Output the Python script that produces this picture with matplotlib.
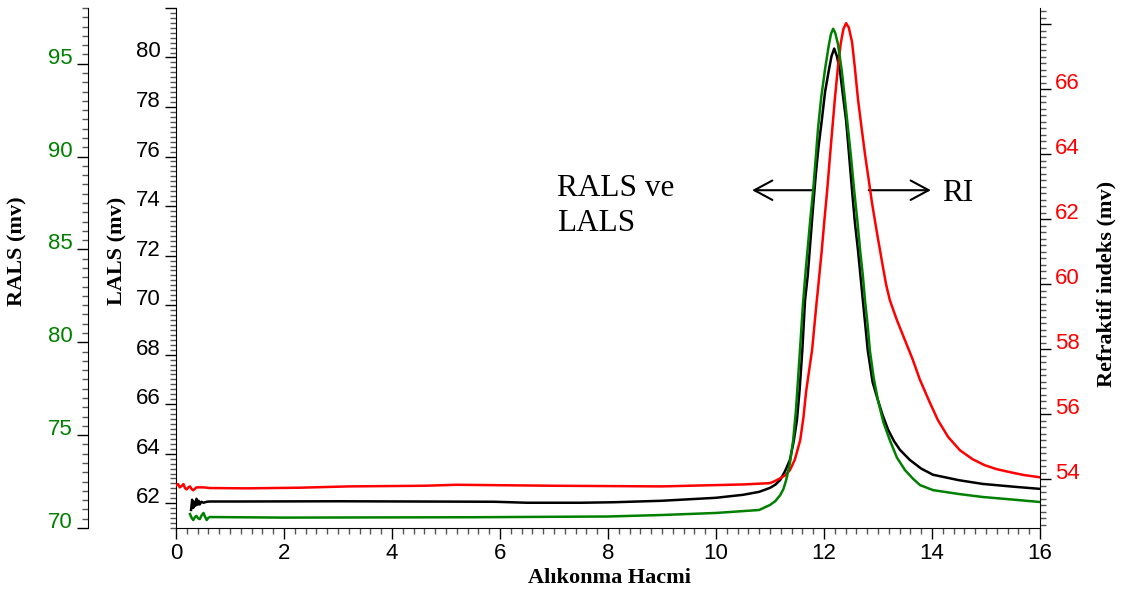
import numpy as np
import matplotlib
matplotlib.use("Agg")
import matplotlib.pyplot as plt
from matplotlib.ticker import MultipleLocator, FixedLocator, FuncFormatter

plt.rcParams['font.family'] = ['Liberation Sans', 'DejaVu Sans']

# LALS sinyali (siyah, sol ic eksen)
lals_x = [0.28, 0.30, 0.32, 0.34, 0.36, 0.38, 0.40, 0.42, 0.44, 0.47, 0.51, 0.57, 0.63,
          1.1, 3.0, 5.9, 6.5, 7.5, 8.1, 9.0, 10.0, 10.5, 10.8, 11.0, 11.1, 11.19, 11.28,
          11.37, 11.44, 11.5, 11.55, 11.6, 11.65, 11.70, 11.75, 11.80, 11.85, 11.90, 11.96,
          12.02, 12.09, 12.14, 12.19, 12.24, 12.30, 12.35, 12.41, 12.46, 12.52, 12.57, 12.63,
          12.68, 12.72, 12.77, 12.81, 12.9, 12.98, 13.08, 13.19, 13.3, 13.41, 13.59, 13.8,
          14.02, 14.5, 14.94, 15.5, 16.0]
lals_y = [61.73, 62.14, 61.81, 62.06, 61.90, 62.18, 61.94, 62.10, 61.95, 62.06, 62.02, 62.06, 62.07,
          62.07, 62.08, 62.06, 62.02, 62.02, 62.04, 62.10, 62.22, 62.34, 62.46, 62.62, 62.75, 62.94, 63.3,
          63.75, 64.5, 65.36, 66.6, 68.2, 70.2, 71.2, 72.6, 74.0, 75.3, 76.4, 77.46,
          78.6, 79.48, 80.05, 80.36, 80.05, 79.4, 78.5, 77.46, 76.2, 74.64, 73.4, 72.22,
          71.1, 70.2, 69.1, 68.19, 66.9, 66.3, 65.6, 64.96, 64.5, 64.15, 63.75, 63.4,
          63.15, 62.93, 62.78, 62.67, 62.58]

# RALS sinyali (yesil, en soldaki eksen)
rals_x = [0.26, 0.29, 0.32, 0.35, 0.38, 0.41, 0.44, 0.48, 0.51, 0.54, 0.57, 0.60, 0.63,
          2.0, 5.5, 8.0, 9.0, 10.0, 10.8, 11.0, 11.1, 11.19, 11.25, 11.30, 11.37, 11.43,
          11.48, 11.52, 11.57, 11.61, 11.66, 11.70, 11.75, 11.80, 11.85, 11.89, 11.95, 12.02,
          12.09, 12.13, 12.17, 12.21, 12.26, 12.33, 12.38, 12.43, 12.5, 12.56, 12.62, 12.67,
          12.72, 12.76, 12.81, 12.85, 12.92, 13.0, 13.1, 13.22, 13.35, 13.5, 13.65, 13.78,
          14.02, 14.5, 14.94, 15.5, 16.0]
rals_y = [70.75, 70.55, 70.43, 70.58, 70.65, 70.52, 70.48, 70.70, 70.81, 70.60, 70.43, 70.55, 70.59,
          70.56, 70.58, 70.62, 70.70, 70.81, 70.97, 71.24, 71.45, 71.77, 72.1, 72.58, 73.5, 74.73,
          76.3, 78.0, 80.2, 82.0, 83.8, 85.1, 86.7, 88.17, 90.0, 91.5, 93.2, 94.7,
          96.0, 96.6, 96.88, 96.65, 96.05, 94.62, 93.3, 91.94, 90.0, 88.17, 86.5, 84.95,
          83.6, 82.26, 80.9, 79.57, 78.1, 76.88, 75.7, 74.73, 73.8, 73.12, 72.65, 72.31,
          72.04, 71.83, 71.67, 71.53, 71.40]

# RI sinyali (kirmizi, sag eksen)
ri_x = [0.0, 0.04, 0.07, 0.11, 0.14, 0.17, 0.20, 0.23, 0.26, 0.29, 0.32, 0.38, 0.51, 0.63,
        1.3, 2.3, 3.2, 4.6, 5.2, 7.0, 9.0, 10.0, 10.5, 11.0, 11.1, 11.19, 11.28, 11.37,
        11.46, 11.56, 11.62, 11.67, 11.73, 11.78, 11.85, 11.91, 11.96, 12.01, 12.06, 12.13,
        12.20, 12.26, 12.31, 12.36, 12.41, 12.46, 12.52, 12.57, 12.63, 12.69, 12.76, 12.83,
        12.89, 12.98, 13.07, 13.15, 13.22, 13.35, 13.5, 13.64, 13.78, 13.95, 14.11, 14.3,
        14.52, 14.75, 14.98, 15.2, 15.44, 15.7, 16.0]
ri_y = [53.82, 53.85, 53.75, 53.80, 53.85, 53.72, 53.69, 53.75, 53.78, 53.70, 53.66, 53.75, 53.75, 53.73,
        53.72, 53.74, 53.78, 53.80, 53.83, 53.80, 53.78, 53.82, 53.84, 53.88, 53.95, 54.03, 54.12, 54.28,
        54.6, 55.2, 55.9, 56.7, 57.4, 57.97, 59.2, 60.2, 61.05, 62.0, 62.89, 64.3,
        65.66, 66.7, 67.4, 67.85, 68.03, 67.9, 67.45, 66.7, 65.7, 64.9, 64.0, 63.2,
        62.5, 61.6, 60.74, 60.0, 59.51, 58.9, 58.28, 57.7, 57.05, 56.4, 55.82, 55.3,
        54.89, 54.62, 54.43, 54.31, 54.22, 54.13, 54.06]

fig = plt.figure(figsize=(11.25, 5.93), dpi=100)
ax = fig.add_axes([0.1564, 0.1096, 0.768, 0.877])
ax_r = ax.twinx()
ax_g = ax.twinx()

ax.plot(lals_x, lals_y, color='black', lw=1.8, zorder=3)
ax_g.plot(rals_x, rals_y, color='#008000', lw=1.8)
ax_r.plot(ri_x, ri_y, color='#ff0000', lw=1.8)

ax.set_xlim(0, 16)
ax.set_ylim(61, 82)
ax_g.set_ylim(70, 98)
ax_r.set_ylim(52.5, 68.5)

# kenar cizgileri
for a in (ax, ax_r, ax_g):
    for s in a.spines.values():
        s.set_visible(False)
ax.spines['left'].set_visible(True)
ax.spines['bottom'].set_visible(True)
ax_r.spines['right'].set_visible(True)
ax_g.spines['left'].set_visible(True)
ax_g.spines['left'].set_position(('axes', -0.1019))
ax_g.yaxis.set_ticks_position('left')
ax_g.yaxis.set_label_position('left')

# tikler
ax.xaxis.set_major_locator(MultipleLocator(2))
ax.xaxis.set_minor_locator(MultipleLocator(0.2))
ax.yaxis.set_major_locator(FixedLocator(np.arange(62, 83, 2)))
ax.yaxis.set_minor_locator(MultipleLocator(0.2))
ax.yaxis.set_major_formatter(FuncFormatter(lambda v, p: '' if v > 81 else '%d' % v))
ax_g.yaxis.set_major_locator(MultipleLocator(5))
ax_g.yaxis.set_minor_locator(MultipleLocator(0.5))
ax_r.yaxis.set_major_locator(FixedLocator(np.arange(54, 69, 2)))
ax_r.yaxis.set_minor_locator(MultipleLocator(0.2))
ax_r.yaxis.set_major_formatter(FuncFormatter(lambda v, p: '' if v > 67 else '%d' % v))

for a in (ax, ax_r, ax_g):
    a.tick_params(which='major', length=8, width=1, labelsize=16, pad=3)
    a.tick_params(which='minor', length=4, width=1, color='#555555')
ax_g.tick_params(axis='y', labelcolor='#008000')
ax_r.tick_params(axis='y', labelcolor='#ff0000')

# sayilar tik cizgisinin hemen ustunde durur
for a in (ax, ax_r, ax_g):
    for lab in a.get_yticklabels():
        lab.set_va('baseline')

lab_font = dict(family='Liberation Serif', weight='bold', size=16, va='center')
ax.set_xlabel('Alıkonma Hacmi', **lab_font)
ax.set_ylabel('LALS (mv)', **lab_font)
ax_g.set_ylabel('RALS (mv)', **lab_font)
ax_r.set_ylabel('Refraktif indeks (mv)', **lab_font)
ax.xaxis.set_label_coords(0.502, -0.096)
ax.yaxis.set_label_coords(-0.0671, 0.533)
ax_g.yaxis.set_label_coords(-0.1829, 0.533)
ax_r.yaxis.set_label_coords(1.0775, 0.469)

# aciklama yazilari ve oklar
ax.text(7.06, 75.3, 'RALS ve\nLALS', family='Liberation Serif', fontsize=22.5,
        va='top', ha='left', linespacing=1.3)
ax.text(14.19, 74.5, 'RI', family='Liberation Serif', fontsize=22.5, va='center', ha='left')
arrow = dict(arrowstyle='->,head_length=0.65,head_width=0.35', color='black', lw=1.5,
             mutation_scale=20, shrinkA=0, shrinkB=0)
ax.annotate('', xy=(10.67, 74.64), xytext=(11.8, 74.64), arrowprops=arrow)
ax.annotate('', xy=(13.98, 74.64), xytext=(12.83, 74.64), arrowprops=arrow)

fig.savefig('out.png', dpi=100)
